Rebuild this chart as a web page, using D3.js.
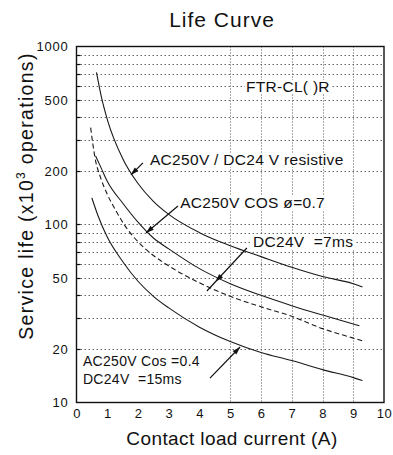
<!DOCTYPE html>
<html>
<head>
<meta charset="utf-8">
<script src="https://cdn.jsdelivr.net/npm/d3@7"></script>
<style>
  body { margin: 0; background: #fff; }
  svg { display: block; font-family: "Liberation Sans", Arial, sans-serif; }
  .lbl { white-space: pre; }
</style>
</head>
<body>
<script>
// Consts for the figure
const width = 393,
    height = 455,
    margin = {top: 46.5, right: 9, bottom: 52.5, left: 76.5};

// Axis values
const xTickValues = [0, 1, 2, 3, 4, 5, 6, 7, 8, 9, 10];
const yTickValues = [10, 20, 50, 100, 200, 500, 1000];
const yGridValues = [20, 30, 40, 50, 60, 70, 80, 90, 100, 200, 300, 400, 500, 600, 700, 800, 900];
const xGridValues = [5, 6, 7, 8, 9];

// Curves: current (A) -> life (x10^3 ops)
const resistiveI    = [0.65, 0.8, 1, 1.5, 2, 2.5, 3, 4, 5, 6, 7, 8, 9, 9.3];
const resistiveLife = [716, 530, 390, 235, 170, 135, 114, 90, 76, 66, 57.5, 51, 46.5, 44.5];

const cos07I    = [0.62, 0.8, 1, 1.5, 2, 2.5, 3, 4, 5, 6, 7, 8, 9, 9.2];
const cos07Life = [243, 208, 175, 132, 103, 84, 73, 56.5, 46.5, 40, 35, 31, 27.6, 27];

const dc7msI    = [0.46, 0.6, 0.8, 1, 1.3, 1.6, 2, 2.5, 3, 4, 5, 6, 7, 8, 9, 9.3];
const dc7msLife = [350, 238, 180, 148, 118, 97, 80, 67, 58.5, 47, 39.5, 34.5, 30.5, 26, 23, 22.2];

const cos04I    = [0.5, 0.7, 1, 1.5, 2, 2.5, 3, 4, 5, 6, 7, 8, 9, 9.3];
const cos04Life = [141, 112, 85, 62, 48, 39.5, 34, 26.5, 22, 19.1, 17.2, 15.3, 13.8, 13.3];

const svg = d3.select('body').append('svg')
    .attr('width', width)
    .attr('height', height);

const x = d3.scaleLinear().domain([0, 10]).range([margin.left, width - margin.right]);
const y = d3.scaleLog().domain([10, 1000]).range([height - margin.bottom, margin.top]);

// Title
svg.append('text')
    .attr('x', 222).attr('y', 27)
    .attr('text-anchor', 'middle')
    .attr('font-size', 21)
    .attr('letter-spacing', 1)
    .attr('fill', '#111')
    .text('Life Curve');

// Grid lines
svg.append('g')
    .selectAll('line')
    .data(yGridValues).enter()
    .append('line')
    .attr('x1', x(0) + 4).attr('x2', x(10))
    .attr('y1', d => Math.round(y(d)) + 0.5).attr('y2', d => Math.round(y(d)) + 0.5)
    .attr('stroke', '#666')
    .attr('stroke-width', 1)
    .attr('stroke-dasharray', '1.5,2.5');

svg.append('g')
    .selectAll('line')
    .data(xGridValues).enter()
    .append('line')
    .attr('x1', d => Math.round(x(d)) + 0.5).attr('x2', d => Math.round(x(d)) + 0.5)
    .attr('y1', y(1000)).attr('y2', y(10))
    .attr('stroke', '#555')
    .attr('stroke-width', 1)
    .attr('stroke-dasharray', '1,2');

// small inner ticks on the left axis
svg.append('g')
    .selectAll('line')
    .data(yGridValues).enter()
    .append('line')
    .attr('x1', x(0)).attr('x2', x(0) + 4)
    .attr('y1', d => Math.round(y(d)) + 0.5).attr('y2', d => Math.round(y(d)) + 0.5)
    .attr('stroke', '#111')
    .attr('stroke-width', 1.2);

// Frame
svg.append('rect')
    .attr('x', x(0)).attr('y', y(1000))
    .attr('width', x(10) - x(0)).attr('height', y(10) - y(1000))
    .attr('fill', 'none')
    .attr('stroke', '#111')
    .attr('stroke-width', 1.4);

// Axes (labels only)
const xAxis = svg.append('g')
    .attr('transform', 'translate(0,' + y(10) + ')')
    .call(d3.axisBottom(x).tickValues(xTickValues).tickSize(0).tickPadding(6));
xAxis.select('.domain').remove();
xAxis.selectAll('text')
    .attr('font-size', 13)
    .attr('font-family', '"Liberation Sans", Arial, sans-serif')
    .attr('letter-spacing', 0.5)
    .attr('fill', '#111');

const yAxis = svg.append('g')
    .attr('transform', 'translate(' + x(0) + ',0)')
    .call(d3.axisLeft(y).tickValues(yTickValues).tickFormat(d3.format('d')).tickSize(0).tickPadding(8));
yAxis.select('.domain').remove();
yAxis.selectAll('text')
    .attr('font-size', 13)
    .attr('font-family', '"Liberation Sans", Arial, sans-serif')
    .attr('letter-spacing', 0.8)
    .attr('fill', '#111');

// Axis titles
svg.append('text')
    .attr('x', 232).attr('y', 445)
    .attr('text-anchor', 'middle')
    .attr('font-size', 19)
    .attr('letter-spacing', 0.4)
    .attr('fill', '#111')
    .text('Contact load current (A)');

let yTitle = svg.append('text')
    .attr('transform', 'translate(33,196) rotate(-90)')
    .attr('text-anchor', 'middle')
    .attr('font-size', 19.5)
    .attr('letter-spacing', 1.3)
    .attr('fill', '#111');
yTitle.append('tspan').text('Service life (x10');
yTitle.append('tspan').attr('font-size', 12).attr('dy', -8).text('3');
yTitle.append('tspan').attr('dy', 8).text(' operations)');

// Curves
const line = d3.line()
    .x(d => x(d[0]))
    .y(d => y(d[1]))
    .curve(d3.curveMonotoneX);

const curves = [
    {I: resistiveI, L: resistiveLife, dash: null},
    {I: cos07I, L: cos07Life, dash: null},
    {I: dc7msI, L: dc7msLife, dash: '5,3'},
    {I: cos04I, L: cos04Life, dash: null}
];

svg.append('g')
    .selectAll('path')
    .data(curves).enter()
    .append('path')
    .attr('d', c => line(d3.zip(c.I, c.L)))
    .attr('fill', 'none')
    .attr('stroke', '#1a1a1a')
    .attr('stroke-width', 1.1)
    .attr('stroke-dasharray', c => c.dash);

// Labels (data coordinates of the left baseline)
const labels = [
    {t: 'FTR-CL( )R', i: 5.51, v: 555, size: 15.5},
    {t: 'AC250V / DC24 V resistive', i: 2.39, v: 216, size: 15.5},
    {t: 'AC250V COS ø=0.7', i: 3.37, v: 124, size: 15.5},
    {t: 'DC24V  =7ms', i: 5.74, v: 74.8, size: 15.5},
    {t: 'AC250V Cos =0.4', i: 0.21, v: 16.0, size: 14},
    {t: 'DC24V  =15ms', i: 0.21, v: 12.7, size: 14}
];

let lblG = svg.append('g');
labels.forEach(function(l) {
    let bg = lblG.append('rect').attr('fill', '#fff');
    let t = lblG.append('text')
        .attr('class', 'lbl')
        .attr('x', x(l.i)).attr('y', y(l.v))
        .attr('font-size', l.size)
        .attr('letter-spacing', 0.3)
        .attr('fill', '#111')
        .text(l.t);
    let b = t.node().getBBox();
    bg.attr('x', b.x - 1).attr('y', b.y + 2).attr('width', b.width + 2).attr('height', b.height - 3);
});

// Arrows: from (i1,v1) to (i2,v2), head tip at fraction t along the line
const arrows = [
    [2.16, 222, 1.77, 190, 1],
    [3.30, 127, 2.26, 89.6, 1],
    [5.54, 73.8, 4.24, 42.3, 0.78],
    [4.34, 13.7, 5.32, 20.5, 1]
];

arrows.forEach(function(a) {
    let p1 = [x(a[0]), y(a[1])], p2 = [x(a[2]), y(a[3])];
    svg.append('line')
        .attr('x1', p1[0]).attr('y1', p1[1])
        .attr('x2', p2[0]).attr('y2', p2[1])
        .attr('stroke', '#111')
        .attr('stroke-width', 1.2);
    let dx = p2[0] - p1[0], dy = p2[1] - p1[1];
    let len = Math.sqrt(dx * dx + dy * dy);
    let ux = dx / len, uy = dy / len;
    let tip = [p1[0] + dx * a[4], p1[1] + dy * a[4]];
    let L = 8, W = 2.6;
    let pts = [
        tip,
        [tip[0] - L * ux - W * uy, tip[1] - L * uy + W * ux],
        [tip[0] - L * ux + W * uy, tip[1] - L * uy - W * ux]
    ];
    svg.append('polygon')
        .attr('points', pts.map(p => p.join(',')).join(' '))
        .attr('fill', '#111');
});
</script>
</body>
</html>
